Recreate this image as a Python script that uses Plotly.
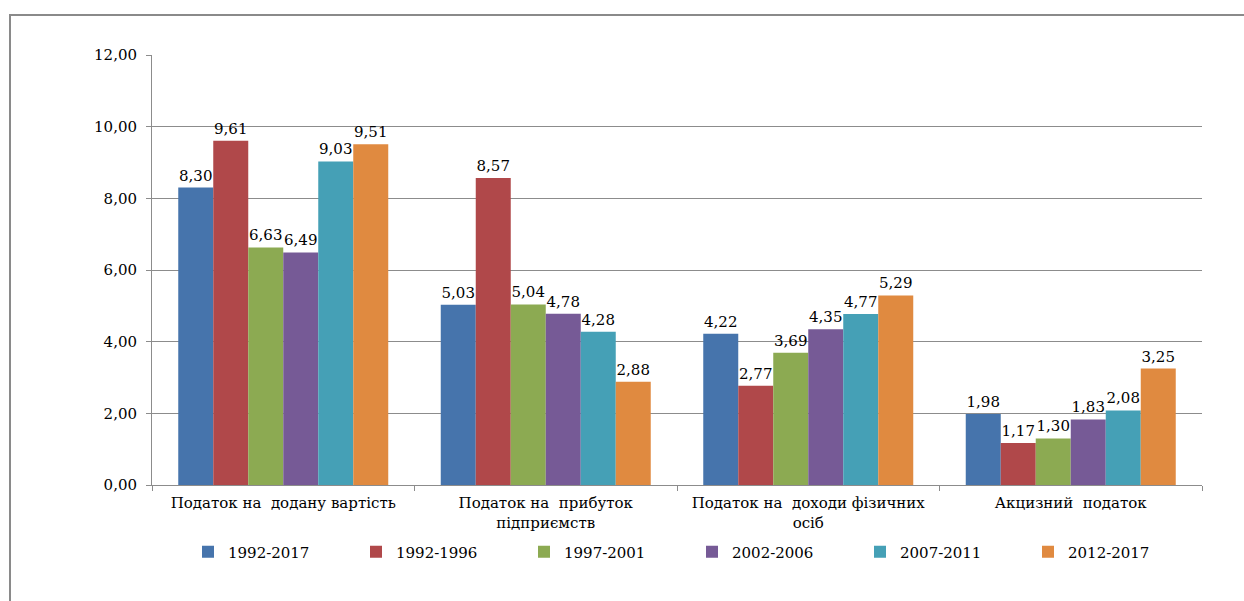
import plotly.graph_objects as go

categories = [
    "Податок на  додану вартість",
    "Податок на  прибуток<br>підприємств",
    "Податок на  доходи фізичних<br>осіб",
    "Акцизний  податок",
]
series_names = ["1992-2017", "1992-1996", "1997-2001", "2002-2006", "2007-2011", "2012-2017"]
v_1992_2017 = [8.30, 5.03, 4.22, 1.98]
v_1992_1996 = [9.61, 8.57, 2.77, 1.17]
v_1997_2001 = [6.63, 5.04, 3.69, 1.30]
v_2002_2006 = [6.49, 4.78, 4.35, 1.83]
v_2007_2011 = [9.03, 4.28, 4.77, 2.08]
v_2012_2017 = [9.51, 2.88, 5.29, 3.25]
series_values = [v_1992_2017, v_1992_1996, v_1997_2001, v_2002_2006, v_2007_2011, v_2012_2017]
colors = ["#4674AC", "#B0484A", "#8CAA52", "#765A96", "#45A0B6", "#E08A40"]
y_ticks = [0, 2, 4, 6, 8, 10, 12]

FONT = "DejaVu Serif"
fig = go.Figure()
for name, vals, col in zip(series_names, series_values, colors):
    fig.add_trace(go.Bar(
        x=categories, y=vals, name=name,
        marker=dict(color=col, line=dict(width=0)),
        texttemplate="%{y:.2f}", textposition="outside",
        constraintext="none", cliponaxis=False,
        textfont=dict(family=FONT, size=15, color="#000000"),
    ))

L, R, T, B = 152, 42, 55, 116
W, H = 1244, 601
pw, ph = W - L - R, H - T - B

def px_x(p):
    return (p - L) / pw

def px_y(p):
    return (H - B - p) / ph

fig.update_layout(
    width=W, height=H,
    margin=dict(l=L, r=R, t=T, b=B, autoexpand=False),
    paper_bgcolor="white", plot_bgcolor="white",
    separators=", ",
    barmode="group", bargap=0.2, bargroupgap=0,
    font=dict(family=FONT, size=15, color="#000000"),
    showlegend=True,
    legend=dict(
        orientation="h", x=px_x(188), xanchor="left",
        y=px_y(552), yanchor="middle",
        entrywidth=123, entrywidthmode="pixels",
        font=dict(family=FONT, size=15, color="#000000"),
        bgcolor="rgba(0,0,0,0)", traceorder="normal",
    ),
    xaxis=dict(
        type="category", showgrid=False, showline=True, linecolor="#8c8c8c", linewidth=1,
        ticks="outside", tickson="boundaries", ticklen=5, tickcolor="#8c8c8c",
        ticklabelstandoff=4,
        tickfont=dict(family=FONT, size=15, color="#000000"),
        fixedrange=True,
    ),
    yaxis=dict(
        range=[0, 12], tickvals=y_ticks, tickformat=".2f",
        showgrid=True, gridcolor="#8c8c8c", gridwidth=1,
        showline=True, linecolor="#8c8c8c", linewidth=1,
        ticks="outside", ticklen=5, tickcolor="#8c8c8c",
        ticklabelstandoff=6, zeroline=False,
        tickfont=dict(family=FONT, size=15, color="#000000"),
        fixedrange=True,
    ),
    shapes=[dict(
        type="rect", xref="paper", yref="paper",
        x0=px_x(10), x1=px_x(1260), y0=px_y(620), y1=px_y(15),
        line=dict(color="#8a8a8a", width=2), fillcolor="rgba(0,0,0,0)",
        layer="above",
    )],
)

fig.write_html("out.html", config={"displayModeBar": False})
